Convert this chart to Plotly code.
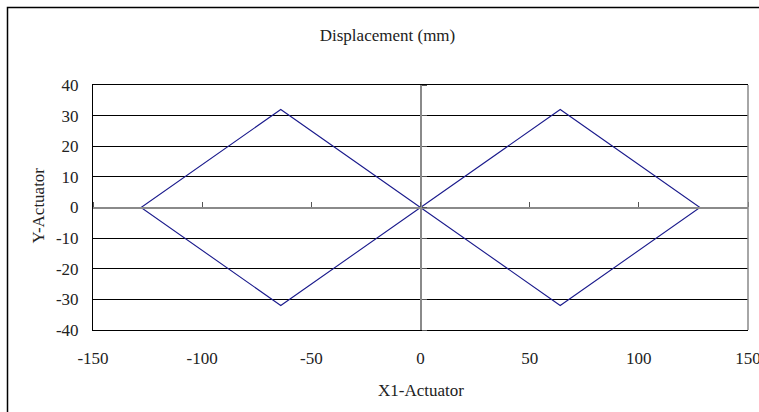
import plotly.graph_objects as go

# Data: displacement path (mm)
x1_actuator = [0, 64, 128, 64, 0, -64, -128, -64, 0]
y_actuator = [0, 32, 0, -32, 0, 32, 0, -32, 0]

x_ticks = [-150, -100, -50, 0, 50, 100, 150]
y_ticks = [-40, -30, -20, -10, 0, 10, 20, 30, 40]
y_grid = [-30, -20, -10, 10, 20, 30]

FONT = "Liberation Serif, Times New Roman, serif"
W, H = 759, 412
ML, MR, MT, MB = 93, 11, 85, 82
PW, PH = W - ML - MR, H - MT - MB

def px_x(p):
    return (p - ML) / PW

def px_y(p):
    return (H - MB - p) / PH

fig = go.Figure()
# invisible traces on the helper axes so they render
fig.add_trace(go.Scatter(x=[0], y=[0], xaxis="x", yaxis="y3", mode="markers",
                         marker=dict(opacity=0), showlegend=False, hoverinfo="skip"))
fig.add_trace(go.Scatter(x=[0], y=[0], xaxis="x2", yaxis="y2", mode="markers",
                         marker=dict(opacity=0), showlegend=False, hoverinfo="skip"))
fig.add_trace(go.Scatter(
    x=x1_actuator, y=y_actuator, mode="lines",
    line=dict(color="#1a1a8c", width=1.1), showlegend=False, hoverinfo="skip",
))

fig.update_layout(
    width=W, height=H,
    margin=dict(l=ML, r=MR, t=MT, b=MB, autoexpand=False),
    paper_bgcolor="white", plot_bgcolor="white",
    font=dict(family=FONT, size=17, color="#222"),
    title=dict(text="Displacement (mm)", x=387.5 / W, xref="container", xanchor="center",
               y=1 - 35 / H, yref="container", yanchor="middle",
               font=dict(family=FONT, size=17, color="#222")),
    xaxis=dict(range=[-150, 150], tickvals=x_ticks, ticktext=[str(v) for v in x_ticks],
               showgrid=False, zeroline=False, showline=True, linecolor="black",
               linewidth=1, mirror=True, ticks="", ticklabelstandoff=13,
               ticklabeloverflow="allow", automargin=False,
               tickfont=dict(family=FONT, size=17, color="#222")),
    yaxis=dict(range=[-40, 40], tickvals=y_ticks, ticktext=[str(v) for v in y_ticks],
               showgrid=False, zeroline=False, automargin=False,
               showline=True, linecolor="black", linewidth=1, mirror=False,
               ticks="", ticklabelstandoff=10,
               tickfont=dict(family=FONT, size=17, color="#222")),
    yaxis3=dict(range=[-40, 40], overlaying="y", anchor="x", side="left",
                tickvals=y_grid, showticklabels=False, ticks="",
                showgrid=True, gridcolor="black", gridwidth=1, zeroline=False,
                showline=False, automargin=False),
    xaxis2=dict(range=[-150, 150], overlaying="x", anchor="free", position=0.5,
                side="top", tickvals=x_ticks, showticklabels=False, ticks="outside",
                ticklen=5, tickcolor="#555", showline=True, linecolor="#8a8a8a",
                linewidth=2, showgrid=False, zeroline=False, automargin=False),
    yaxis2=dict(range=[-40, 40], overlaying="y", anchor="free", position=0.5,
                side="right", tickvals=y_ticks, showticklabels=False, ticks="outside",
                ticklen=5, tickcolor="#555", showline=True, linecolor="#8a8a8a",
                linewidth=2, showgrid=False, zeroline=False, automargin=False),
    annotations=[
        dict(text="X1-Actuator", xref="paper", yref="paper", x=0.5, y=px_y(391),
             xanchor="center", yanchor="middle", showarrow=False,
             font=dict(family=FONT, size=17, color="#222")),
        dict(text="Y-Actuator", xref="paper", yref="paper", x=px_x(37.5), y=px_y(206),
             xanchor="center", yanchor="middle", showarrow=False, textangle=-90,
             font=dict(family=FONT, size=17, color="#222")),
    ],
    shapes=[
        dict(type="rect", xref="paper", yref="paper", x0=px_x(7.5), x1=px_x(790),
             y0=px_y(440), y1=px_y(7.5), line=dict(color="black", width=1.5),
             fillcolor="rgba(0,0,0,0)", layer="above"),
        dict(type="line", xref="paper", yref="paper", x0=1, x1=1, y0=0, y1=1,
             line=dict(color="#888", width=1.5)),
    ],
)

fig.write_html("out.html")
